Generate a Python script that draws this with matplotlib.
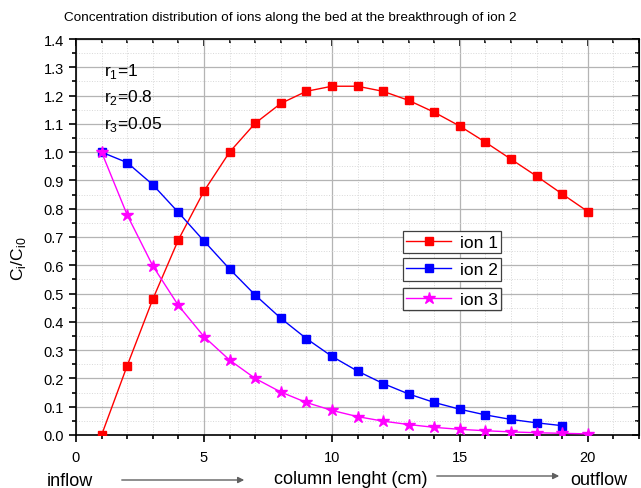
import numpy as np
import matplotlib
matplotlib.use('Agg')
import matplotlib.pyplot as plt
from matplotlib.ticker import MultipleLocator

plt.rcParams['font.family'] = ['Liberation Sans', 'DejaVu Sans']

# data
x_ion1 = list(range(1, 21))
ion1 = [0.0, 0.245, 0.48, 0.69, 0.862, 1.0, 1.102, 1.172, 1.215, 1.233,
        1.233, 1.215, 1.183, 1.141, 1.092, 1.035, 0.975, 0.915, 0.852, 0.79]
x_ion2 = list(range(1, 20))
ion2 = [1.0, 0.963, 0.885, 0.787, 0.686, 0.587, 0.495, 0.413, 0.341, 0.278,
        0.226, 0.182, 0.145, 0.115, 0.091, 0.071, 0.055, 0.043, 0.033]
x_ion3 = list(range(1, 21))
ion3 = [1.0, 0.778, 0.598, 0.458, 0.348, 0.265, 0.200, 0.152, 0.115, 0.087,
        0.065, 0.049, 0.037, 0.027, 0.020, 0.015, 0.011, 0.008, 0.006, 0.004]
labels = ['ion 1', 'ion 2', 'ion 3']
colors = ['#ff0000', '#0000ff', '#ff00ff']

fig = plt.figure(figsize=(6.41, 4.89), dpi=100)
ax = fig.add_axes([76 / 641, 1 - 436 / 489, 563 / 641, 396 / 489])

l1, = ax.plot(x_ion1, ion1, '-s', color=colors[0], lw=1, ms=6.2, zorder=3)
l2, = ax.plot(x_ion2, ion2, '-s', color=colors[1], lw=1, ms=6.2, zorder=3)
l3, = ax.plot(x_ion3, ion3, '-*', color=colors[2], lw=1, ms=9, zorder=3)

ax.set_xlim(0, 22)
ax.set_ylim(0, 1.4)
ax.xaxis.set_major_locator(MultipleLocator(5))
ax.xaxis.set_minor_locator(MultipleLocator(1))
ax.yaxis.set_major_locator(MultipleLocator(0.1))
ax.yaxis.set_minor_locator(MultipleLocator(0.05))
ax.yaxis.set_major_formatter(matplotlib.ticker.FormatStrFormatter('%.1f'))

ax.grid(which='major', color='#b4b4b4', lw=0.9, ls='-')
ax.grid(which='minor', color='#d8d8d8', lw=0.7, ls=':')
ax.set_axisbelow(True)

ax.tick_params(which='both', direction='out', labelsize=10.5, width=1.2)
ax.tick_params(which='major', length=5)
ax.tick_params(which='minor', length=3)
ax.tick_params(axis='x', pad=5.5)
for sp in ax.spines.values():
    sp.set_linewidth(1.2)

# mirrored ticks on top/right point inward
ax2 = ax.secondary_xaxis('top')
ax2.xaxis.set_major_locator(MultipleLocator(5))
ax2.xaxis.set_minor_locator(MultipleLocator(1))
ax2.tick_params(which='both', direction='in', labeltop=False, width=1.2)
ax2.tick_params(which='major', length=5)
ax2.tick_params(which='minor', length=3)
ax3 = ax.secondary_yaxis('right')
ax3.yaxis.set_major_locator(MultipleLocator(0.1))
ax3.yaxis.set_minor_locator(MultipleLocator(0.05))
ax3.tick_params(which='both', direction='in', labelright=False, width=1.2)
ax3.tick_params(which='major', length=5)
ax3.tick_params(which='minor', length=3)

ax.set_ylabel(r'C$_\mathregular{i}$/C$_\mathregular{i0}$', fontsize=12.5)
ax.yaxis.set_label_coords((28 - 76) / 563, (436 - 259) / 396)

fig.text(0.5 * (67 + 513) / 641, 1 - 18 / 489,
         'Concentration distribution of ions along the bed at the breakthrough of ion 2',
         ha='center', va='center', fontsize=9.7)

ax.text(1.1, 1.29, r'r$_\mathregular{1}$=1', fontsize=12.5, va='center')
ax.text(1.1, 1.195, r'r$_\mathregular{2}$=0.8', fontsize=12.5, va='center')
ax.text(1.1, 1.1, r'r$_\mathregular{3}$=0.05', fontsize=12.5, va='center')

# one box per series, as in the reference
boxes = [(l1, labels[0], 0.487), (l2, labels[1], 0.418), (l3, labels[2], 0.343)]
for line, lab, ypos in boxes:
    leg = ax.legend([line], [lab], loc='center', bbox_to_anchor=(0.668, ypos),
                    fontsize=12.5, fancybox=False, edgecolor='#404040',
                    framealpha=1, handlelength=2.6, borderpad=0.2,
                    handletextpad=0.5)
    leg.get_frame().set_linewidth(0.9)
    ax.add_artist(leg)

# bottom caption with arrows
fig.text(47 / 641, 1 - 482 / 489, 'inflow', fontsize=13, va='center')
fig.text(351 / 641, 1 - 480 / 489, 'column lenght (cm)', fontsize=13, va='center', ha='center')
fig.text(570 / 641, 1 - 481 / 489, 'outflow', fontsize=13, va='center')
for x0, x1, y in [(119, 247, 481), (434, 562, 477)]:
    fig.add_artist(matplotlib.patches.FancyArrowPatch(
        (x0 / 641, 1 - y / 489), (x1 / 641, 1 - y / 489),
        transform=fig.transFigure, arrowstyle='-|>', mutation_scale=9,
        color='#606060', lw=1))

fig.savefig('out.png', dpi=100)
